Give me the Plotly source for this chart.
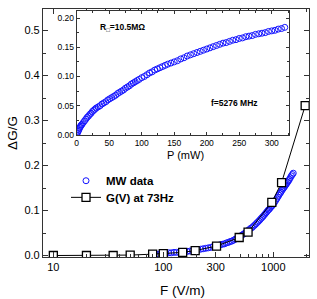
import plotly.graph_objects as go

# ---- main plot: MW data (blue circles) ----
mw_F = [85, 90, 95, 100, 106, 112, 118, 125, 132, 140, 148, 156, 165, 175, 185, 195,
        206, 218, 230, 243, 256, 270, 285, 300, 315, 330, 345, 360, 375, 390, 405, 420,
        435, 450, 465, 480, 495, 510, 525, 540, 555, 570, 585, 600, 620, 640, 660, 680,
        700, 720, 740, 760, 780, 800, 820, 840, 860, 880, 900, 920, 940, 960, 980, 1000,
        1025, 1050, 1075, 1100, 1125, 1150, 1175, 1200, 1225, 1250, 1275, 1300, 1325,
        1350, 1375, 1400, 1430, 1460, 1490, 1520]
mw_dG = [0.002, 0.003, 0.004, 0.005, 0.005, 0.006, 0.006, 0.007, 0.007, 0.007, 0.008, 0.008,
         0.009, 0.010, 0.011, 0.012, 0.013, 0.014, 0.015, 0.016, 0.017, 0.018, 0.020, 0.021,
         0.022, 0.024, 0.025, 0.026, 0.028, 0.029, 0.031, 0.032, 0.034, 0.036, 0.038, 0.040,
         0.042, 0.044, 0.046, 0.048, 0.050, 0.052, 0.055, 0.057, 0.060, 0.062, 0.065, 0.068,
         0.071, 0.074, 0.077, 0.080, 0.083, 0.086, 0.089, 0.092, 0.095, 0.098, 0.101, 0.103,
         0.106, 0.109, 0.111, 0.114, 0.118, 0.122, 0.126, 0.130, 0.134, 0.138, 0.141, 0.145,
         0.148, 0.151, 0.154, 0.157, 0.160, 0.163, 0.166, 0.169, 0.173, 0.177, 0.180, 0.183]

# ---- main plot: G(V) at 73 Hz (squares + line) ----
gv_F = [10, 20, 35, 50, 80, 100, 150, 195, 305, 490, 590, 970, 1190, 1950]
gv_dG = [0.0, 0.0, 0.0, 0.001, 0.003, 0.004, 0.007, 0.011, 0.021, 0.040, 0.052, 0.118, 0.162, 0.333]

# ---- inset: dG/G vs P ----
in_P = [0, 1, 2, 3, 4, 5, 6, 7, 8, 10, 12, 14, 16, 18, 20, 22, 24, 26, 28, 30,
        33, 36, 39, 42, 45, 48, 51, 54, 57, 60, 63, 66, 69, 72, 75, 78, 81, 84, 87, 90,
        93, 96, 100, 104, 108, 112, 116, 120, 124, 128, 132, 136, 140, 145, 150, 155,
        160, 165, 170, 175, 180, 185, 190, 195, 200, 205, 210, 215, 220, 225, 230, 235,
        240, 245, 250, 255, 260, 265, 270, 275, 280, 285, 290, 295, 300, 305, 310, 315, 320]
in_dG = [0.000, 0.003, 0.006, 0.008, 0.011, 0.013, 0.015, 0.017, 0.018, 0.021, 0.024, 0.027,
         0.030, 0.032, 0.035, 0.037, 0.040, 0.042, 0.044, 0.046, 0.048, 0.050, 0.053, 0.055,
         0.057, 0.060, 0.062, 0.064, 0.066, 0.068, 0.071, 0.073, 0.075, 0.077, 0.080, 0.082,
         0.084, 0.087, 0.089, 0.091, 0.093, 0.095, 0.098, 0.100, 0.103, 0.106, 0.108, 0.111,
         0.113, 0.115, 0.117, 0.119, 0.121, 0.123, 0.125, 0.127, 0.130, 0.132, 0.135, 0.137,
         0.139, 0.141, 0.143, 0.145, 0.147, 0.149, 0.151, 0.153, 0.155, 0.157, 0.158, 0.160,
         0.162, 0.163, 0.165, 0.166, 0.168, 0.169, 0.170, 0.172, 0.173, 0.174, 0.175, 0.177,
         0.178, 0.179, 0.181, 0.182, 0.184]

x_tickvals = [10, 100, 300, 1000]
x_ticktext = ["10", "100", "300", "1000"]
x_minor = [20, 30, 40, 50, 60, 70, 80, 90, 200, 400, 500, 600, 700, 800, 900, 2000]

FONT = "Arial, Liberation Sans, sans-serif"
BLUE = "rgb(20,20,255)"
AX = "#333333"

fig = go.Figure()
fig.add_trace(go.Scatter(
    x=mw_F, y=mw_dG, mode="markers", name="<b>MW data</b>", legend="legend",
    marker=dict(symbol="circle-open", size=6, color=BLUE, line=dict(width=1, color=BLUE)),
    xaxis="x", yaxis="y"))
fig.add_trace(go.Scatter(
    x=gv_F, y=gv_dG, mode="lines+markers", name="<b>G(V) at 73Hz</b>", legend="legend2",
    line=dict(color="black", width=1),
    marker=dict(symbol="square", size=8, color="white", line=dict(width=1.3, color="black")),
    xaxis="x", yaxis="y"))
fig.add_trace(go.Scatter(
    x=in_P, y=in_dG, mode="markers", showlegend=False,
    marker=dict(symbol="circle-open", size=6, color=BLUE, line=dict(width=1, color=BLUE)),
    xaxis="x2", yaxis="y2"))

leg_common = dict(xanchor="left", yanchor="top", bgcolor="rgba(0,0,0,0)",
                  font=dict(size=11.5, family=FONT), itemwidth=30)

fig.update_layout(
    width=317, height=299,
    margin=dict(l=43, r=8, t=9, b=42),
    paper_bgcolor="white", plot_bgcolor="white",
    font=dict(family=FONT, color="black", size=11),
    xaxis=dict(type="log", range=[0.906, 3.325], tickvals=x_tickvals, ticktext=x_ticktext,
               ticks="inside", ticklen=5, tickcolor=AX, showline=True, linecolor=AX, linewidth=1.2,
               mirror="ticks", showgrid=False, zeroline=False,
               tickfont=dict(size=11),
               minor=dict(tickvals=x_minor, ticks="inside", ticklen=3, tickcolor=AX)),
    yaxis=dict(range=[-0.0033, 0.548], tickvals=[0.0, 0.1, 0.2, 0.3, 0.4, 0.5],
               ticktext=["0.0", "0.1", "0.2", "0.3", "0.4", "0.5"],
               ticks="inside", ticklen=5, tickcolor=AX, showline=True, linecolor=AX, linewidth=1.2,
               mirror="ticks", showgrid=False, zeroline=False, tickfont=dict(size=11),
               minor=dict(tickvals=[0.05, 0.15, 0.25, 0.35, 0.45], ticks="inside", ticklen=3,
                          tickcolor=AX)),
    xaxis2=dict(domain=[0.1267, 0.926], anchor="y2", range=[0, 327],
                tickvals=[0, 50, 100, 150, 200, 250, 300],
                ticks="inside", ticklen=3, tickcolor=AX, showline=True, linecolor=AX, linewidth=1,
                mirror="ticks", showgrid=False, zeroline=False, tickfont=dict(size=8.5),
                minor=dict(dtick=25, ticks="inside", ticklen=2, tickcolor=AX)),
    yaxis2=dict(domain=[0.492, 0.992], anchor="x2", range=[0, 0.212],
                tickvals=[0.0, 0.05, 0.10, 0.15, 0.20], tickformat=".2f",
                ticks="inside", ticklen=3, tickcolor=AX, showline=True, linecolor=AX, linewidth=1,
                mirror="ticks", showgrid=False, zeroline=False, tickfont=dict(size=8.5),
                minor=dict(dtick=0.025, ticks="inside", ticklen=2, tickcolor=AX)),
    legend=dict(x=0.0865, y=0.366, **leg_common),
    legend2=dict(x=0.0865, y=0.299, **leg_common),
    showlegend=True,
)

fig.add_annotation(text="ΔG/G", xref="paper", yref="paper", x=-0.117, y=0.5,
                   textangle=-90, showarrow=False, font=dict(size=13.5),
                   xanchor="center", yanchor="middle")
fig.add_annotation(text="F (V/m)", xref="paper", yref="paper", x=0.524, y=-0.134,
                   showarrow=False, font=dict(size=13.5), xanchor="center", yanchor="middle")
fig.add_annotation(text="P (mW)", xref="paper", yref="paper", x=0.534, y=0.411,
                   showarrow=False, font=dict(size=11), xanchor="center", yanchor="middle")
fig.add_annotation(text="<b>R<sub>□</sub>=10.5MΩ</b>", xref="x2", yref="y2", x=32, y=0.183,
                   showarrow=False, font=dict(size=8.5), xanchor="left", yanchor="middle")
fig.add_annotation(text="<b>f=5276 MHz</b>", xref="x2", yref="y2", x=204, y=0.055,
                   showarrow=False, font=dict(size=8.5), xanchor="left", yanchor="middle")

fig.write_html("out.html", config={"displayModeBar": False},
               post_script="document.body.style.margin='0';")
